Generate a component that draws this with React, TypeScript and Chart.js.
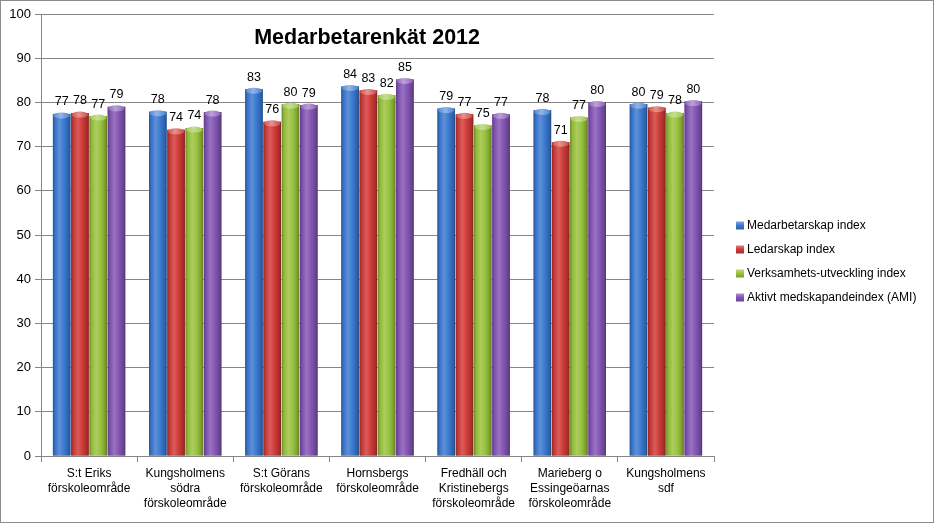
import React, { useEffect, useRef } from "react";
import { Chart, registerables } from "chart.js";

Chart.register(...registerables);

const categories: string[][] = [
  ["S:t Eriks", "förskoleområde"],
  ["Kungsholmens", "södra", "förskoleområde"],
  ["S:t Görans", "förskoleområde"],
  ["Hornsbergs", "förskoleområde"],
  ["Fredhäll och", "Kristinebergs", "förskoleområde"],
  ["Marieberg o", "Essingeöarnas", "förskoleområde"],
  ["Kungsholmens", "sdf"],
];

const seriesNames = [
  "Medarbetarskap index",
  "Ledarskap index",
  "Verksamhets-utveckling index",
  "Aktivt medskapandeindex (AMI)",
];

const medarbetarskap = [77.4, 77.9, 83.0, 83.6, 78.6, 78.2, 79.6];
const ledarskap = [77.6, 73.8, 75.6, 82.7, 77.3, 71.0, 78.8];
const verksamhet = [76.9, 74.2, 79.6, 81.6, 74.8, 76.6, 77.6];
const ami = [79.0, 77.8, 79.4, 85.2, 77.3, 80.0, 80.2];

const seriesColors = ["#3a78d0", "#cf3a36", "#98c23c", "#8354b4"];

const yMin = 0;
const yMax = 100;
const yStep = 10;

const chartTitle = "Medarbetarenkät 2012";

const FONT = "'Liberation Sans', Arial, sans-serif";

function shade(hex: string, amt: number): string {
  const n = parseInt(hex.slice(1), 16);
  let r = (n >> 16) & 255;
  let g = (n >> 8) & 255;
  let b = n & 255;
  if (amt >= 0) {
    r = Math.round(r + (255 - r) * amt);
    g = Math.round(g + (255 - g) * amt);
    b = Math.round(b + (255 - b) * amt);
  } else {
    r = Math.round(r * (1 + amt));
    g = Math.round(g * (1 + amt));
    b = Math.round(b * (1 + amt));
  }
  return `rgb(${r},${g},${b})`;
}

function cylGradient(ctx: CanvasRenderingContext2D, left: number, w: number, color: string) {
  const g = ctx.createLinearGradient(left, 0, left + w, 0);
  g.addColorStop(0, shade(color, -0.3));
  g.addColorStop(0.12, shade(color, -0.05));
  g.addColorStop(0.38, shade(color, 0.18));
  g.addColorStop(0.65, color);
  g.addColorStop(0.9, shade(color, -0.2));
  g.addColorStop(1, shade(color, -0.38));
  return g;
}

const decoPlugin = {
  id: "deco",
  afterDatasetsDraw(chart: any) {
    const ctx: CanvasRenderingContext2D = chart.ctx;
    ctx.save();
    chart.data.datasets.forEach((ds: any, di: number) => {
      const meta = chart.getDatasetMeta(di);
      const color = seriesColors[di];
      meta.data.forEach((el: any, i: number) => {
        const p = el.getProps(["x", "y", "base", "width"], true);
        const left = p.x - p.width / 2;
        const top = p.y;
        const h = p.base - p.y;
        ctx.fillStyle = cylGradient(ctx, left, p.width, color);
        ctx.fillRect(left, top, p.width, h);
        // top cap
        const capH = 3;
        ctx.beginPath();
        ctx.ellipse(p.x, top + capH / 2, p.width / 2 - 0.5, capH, 0, 0, Math.PI * 2);
        const cg = ctx.createLinearGradient(left, 0, left + p.width, 0);
        cg.addColorStop(0, shade(color, 0.1));
        cg.addColorStop(0.45, shade(color, 0.45));
        cg.addColorStop(1, shade(color, 0.05));
        ctx.fillStyle = cg;
        ctx.fill();
        // value label
        ctx.fillStyle = "#000";
        ctx.font = `12.5px ${FONT}`;
        ctx.textAlign = "center";
        ctx.textBaseline = "middle";
        ctx.fillText(String(Math.round(ds.data[i])), p.x, top - 12);
      });
    });
    ctx.restore();
  },
  afterDraw(chart: any) {
    const ctx: CanvasRenderingContext2D = chart.ctx;
    const area = chart.chartArea;
    ctx.save();
    // title
    ctx.fillStyle = "#000";
    ctx.font = `bold 21.5px ${FONT}`;
    ctx.textAlign = "center";
    ctx.textBaseline = "middle";
    ctx.fillText(chartTitle, area.left + (area.right - area.left) * 0.4845, area.top + 24);
    // legend
    ctx.font = `12px ${FONT}`;
    ctx.textAlign = "left";
    const rowH = 24;
    const startY = chart.height / 2 - (rowH * (seriesNames.length - 1)) / 2;
    seriesNames.forEach((name, i) => {
      const cy = startY + i * rowH;
      const bx = area.right + 22;
      const c = seriesColors[i];
      const g = ctx.createLinearGradient(bx, cy - 4, bx, cy + 4);
      g.addColorStop(0, shade(c, 0.35));
      g.addColorStop(0.5, c);
      g.addColorStop(1, shade(c, -0.2));
      ctx.fillStyle = g;
      ctx.fillRect(bx, cy - 4, 8, 8);
      ctx.fillStyle = "#000";
      ctx.fillText(name, bx + 11, cy + 0.5);
    });
    ctx.restore();
  },
};

export default function App() {
  const ref = useRef<HTMLCanvasElement | null>(null);

  useEffect(() => {
    document.body.style.margin = "0";
    if (!ref.current) return;
    const seriesData = [medarbetarskap, ledarskap, verksamhet, ami];
    const chart = new Chart(ref.current, {
      type: "bar",
      data: {
        labels: categories,
        datasets: seriesNames.map((name, i) => ({
          label: name,
          data: seriesData[i],
          backgroundColor: seriesColors[i],
          borderWidth: 0,
          categoryPercentage: 0.76,
          barPercentage: 0.96,
        })),
      },
      options: {
        responsive: false,
        animation: false,
        events: [],
        layout: { padding: { top: 13, right: 219, left: 0, bottom: 0 } },
        plugins: {
          legend: { display: false },
          title: { display: false },
          tooltip: { enabled: false },
        },
        scales: {
          x: {
            grid: {
              drawOnChartArea: false,
              drawTicks: true,
              tickLength: 6,
              color: "#868686",
              offset: true,
            },
            border: { color: "#868686" },
            ticks: {
              color: "#000",
              font: { family: FONT, size: 12, lineHeight: 1.25 },
              padding: 4,
              maxRotation: 0,
              autoSkip: false,
            },
            afterFit: (s: any) => {
              s.height = 66;
            },
          },
          y: {
            min: yMin,
            max: yMax,
            grid: { color: "#868686", tickLength: 6, drawTicks: true },
            border: { color: "#868686" },
            ticks: {
              stepSize: yStep,
              color: "#000",
              font: { family: FONT, size: 13 },
              padding: 4,
            },
            afterFit: (s: any) => {
              s.width = 40;
            },
          },
        },
      },
      plugins: [decoPlugin],
    });
    return () => chart.destroy();
  }, []);

  return (
    <div
      style={{
        width: 934,
        height: 523,
        boxSizing: "border-box",
        border: "1px solid #8c8c8c",
        background: "#fff",
        position: "relative",
      }}
    >
      <canvas ref={ref} width={932} height={521} style={{ display: "block" }} />
    </div>
  );
}
